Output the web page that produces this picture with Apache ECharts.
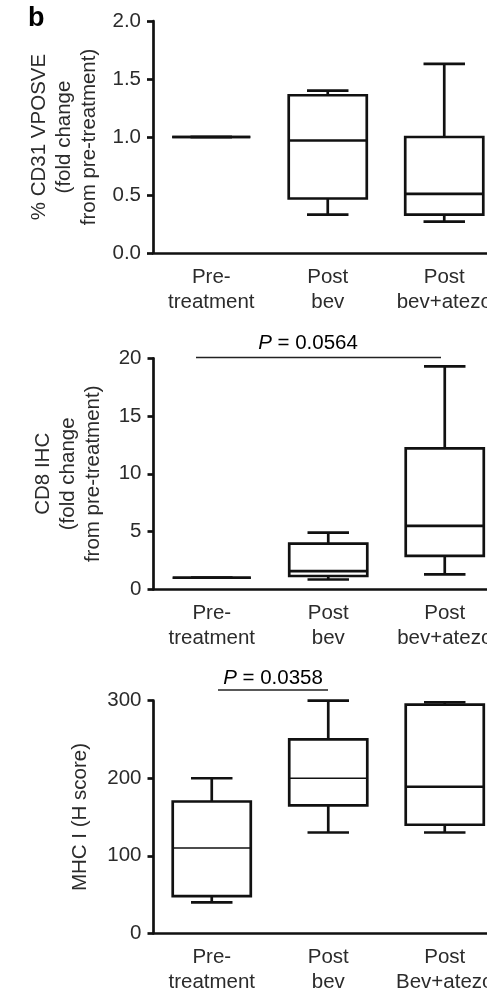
<!DOCTYPE html>
<html>
<head>
<meta charset="utf-8">
<script src="https://cdn.jsdelivr.net/npm/echarts@6/dist/echarts.min.js"></script>
<style>
  html, body { margin: 0; padding: 0; background: #fff; }
  #chart { width: 487px; height: 990px; }
</style>
</head>
<body>
<div id="chart"></div>
<script>
// ---- data ----
const categoriesTop = ['Pre-\ntreatment', 'Post\nbev', 'Post\nbev+atezo'];
const categoriesBottom = ['Pre-\ntreatment', 'Post\nbev', 'Post\nBev+atezo'];

// each row: [min, Q1, median, Q3, max]
const cd31Box = [
  [1, 1, 1, 1, 1],
  [0.33, 0.47, 0.97, 1.36, 1.40],
  [0.27, 0.33, 0.51, 1.00, 1.63]
];
const cd8Box = [
  [1, 1, 1, 1, 1],
  [0.85, 1.15, 1.58, 3.95, 4.9],
  [1.3, 2.9, 5.5, 12.2, 19.3]
];
const mhcBox = [
  [40, 48, 110, 170, 200],
  [130, 165, 200, 250, 300],
  [130, 140, 189, 295, 298]
];

const cd31Ticks = [0, 0.5, 1.0, 1.5, 2.0];
const cd8Ticks = [0, 5, 10, 15, 20];
const mhcTicks = [0, 100, 200, 300];

const pCd8 = 'P = 0.0564';
const pMhc = 'P = 0.0358';

// ---- rendering ----
const FONT = '"Liberation Sans", Arial, Helvetica, sans-serif';
const TXT = '#2b2b2b';
const INK = '#111';

function toRows(box) {
  return box.map((r, i) => [i, r[0], r[1], r[2], r[3], r[4]]);
}

function makeRender(medianWidths) {
  return function (params, api) {
    const cat = api.value(0);
    const vals = [api.value(1), api.value(2), api.value(3), api.value(4), api.value(5)];
    const band = api.size([1, 0])[0];
    const half = band * 0.335;
    const capHalf = band * 0.178;
    const pts = vals.map(v => api.coord([cat, v]));
    const x = pts[0][0];
    const y = pts.map(p => p[1]);
    const st = { stroke: INK, lineWidth: 2.7, fill: null };
    const mw = medianWidths[params.dataIndex];
    const kids = [];
    kids.push({ type: 'line', shape: { x1: x, y1: y[0], x2: x, y2: y[1] }, style: st });
    kids.push({ type: 'line', shape: { x1: x - capHalf, y1: y[0], x2: x + capHalf, y2: y[0] }, style: st });
    kids.push({ type: 'line', shape: { x1: x, y1: y[3], x2: x, y2: y[4] }, style: st });
    kids.push({ type: 'line', shape: { x1: x - capHalf, y1: y[4], x2: x + capHalf, y2: y[4] }, style: st });
    kids.push({ type: 'rect', shape: { x: x - half, y: y[3], width: 2 * half, height: y[1] - y[3] }, style: { stroke: INK, lineWidth: 2.7, fill: '#fff' } });
    kids.push({ type: 'line', shape: { x1: x - half, y1: y[2], x2: x + half, y2: y[2] }, style: { stroke: INK, lineWidth: mw } });
    return { type: 'group', children: kids };
  };
}

const grids = [
  { left: 153, top: 21, width: 349.5, height: 232, outerBoundsMode: 'none', containLabel: false },
  { left: 153.5, top: 358.3, width: 349.5, height: 231, outerBoundsMode: 'none', containLabel: false },
  { left: 153.5, top: 700.7, width: 349.5, height: 232.6, outerBoundsMode: 'none', containLabel: false }
];

function xAxisFor(idx, cats) {
  return {
    type: 'category', gridIndex: idx, data: cats,
    axisLine: { lineStyle: { color: INK, width: 2.7 } },
    axisTick: { alignWithLabel: true, length: 6, lineStyle: { color: INK, width: 2.7 } },
    axisLabel: { color: TXT, fontSize: 20.5, lineHeight: 25, fontFamily: FONT, margin: 12, interval: 0, hideOverlap: false },
    splitLine: { show: false }
  };
}

function yAxisFor(idx, ticks, name, gap, fmt) {
  return {
    type: 'value', gridIndex: idx,
    min: ticks[0], max: ticks[ticks.length - 1], interval: ticks[1] - ticks[0],
    name: name, nameLocation: 'middle', nameRotate: 90, nameGap: gap,
    nameTextStyle: { color: TXT, fontSize: 20.5, lineHeight: 25, fontFamily: FONT, align: 'center' },
    axisLine: { show: true, lineStyle: { color: INK, width: 2.7 } },
    axisTick: { show: true, length: 6, lineStyle: { color: INK, width: 2.7 } },
    axisLabel: { color: TXT, fontSize: 20.5, fontFamily: FONT, margin: 12, formatter: fmt },
    splitLine: { show: false }
  };
}

const chart = echarts.init(document.getElementById('chart'), null, { renderer: 'canvas' });

const pRich = {
  i: { fontStyle: 'italic', fontSize: 20.5, fontFamily: FONT, color: TXT },
  n: { fontSize: 20.5, fontFamily: FONT, color: TXT }
};
function pText(s) {
  const parts = s.split(' ');
  return '{i|' + parts[0] + '}{n| ' + parts.slice(1).join(' ') + '}';
}

chart.setOption({
  animation: false,
  backgroundColor: '#fff',
  grid: grids,
  xAxis: [xAxisFor(0, categoriesTop), xAxisFor(1, categoriesTop), xAxisFor(2, categoriesBottom)],
  yAxis: [
    yAxisFor(0, cd31Ticks, '% CD31 VPOSVE\n(fold change\nfrom pre-treatment)', 48, v => v.toFixed(1)),
    yAxisFor(1, cd8Ticks, 'CD8 IHC\n(fold change\nfrom pre-treatment)', 48, v => String(v)),
    yAxisFor(2, mhcTicks, 'MHC I (H score)', 61, v => String(v))
  ],
  series: [
    { type: 'custom', xAxisIndex: 0, yAxisIndex: 0, data: toRows(cd31Box), renderItem: makeRender([2.7, 2.7, 2.7]), encode: { x: 0, y: [1, 2, 3, 4, 5] }, z: 3 },
    { type: 'custom', xAxisIndex: 1, yAxisIndex: 1, data: toRows(cd8Box), renderItem: makeRender([2.7, 2.7, 2.7]), encode: { x: 0, y: [1, 2, 3, 4, 5] }, z: 3 },
    { type: 'custom', xAxisIndex: 2, yAxisIndex: 2, data: toRows(mhcBox), renderItem: makeRender([1.6, 1.6, 2.7]), encode: { x: 0, y: [1, 2, 3, 4, 5] }, z: 3 }
  ],
  graphic: [
    { type: 'text', left: 28, top: 5, style: { text: 'b', font: 'bold 27px ' + FONT, fill: '#000' } },
    { type: 'line', shape: { x1: 196, y1: 357.5, x2: 441, y2: 357.5 }, style: { stroke: '#222', lineWidth: 1.5 } },
    { type: 'text', x: 308, y: 343, style: { text: pText(pCd8), rich: pRich, align: 'center', verticalAlign: 'middle' } },
    { type: 'line', shape: { x1: 218, y1: 690, x2: 328, y2: 690 }, style: { stroke: '#222', lineWidth: 1.5 } },
    { type: 'text', x: 273, y: 678, style: { text: pText(pMhc), rich: pRich, align: 'center', verticalAlign: 'middle' } }
  ]
});
</script>
</body>
</html>
